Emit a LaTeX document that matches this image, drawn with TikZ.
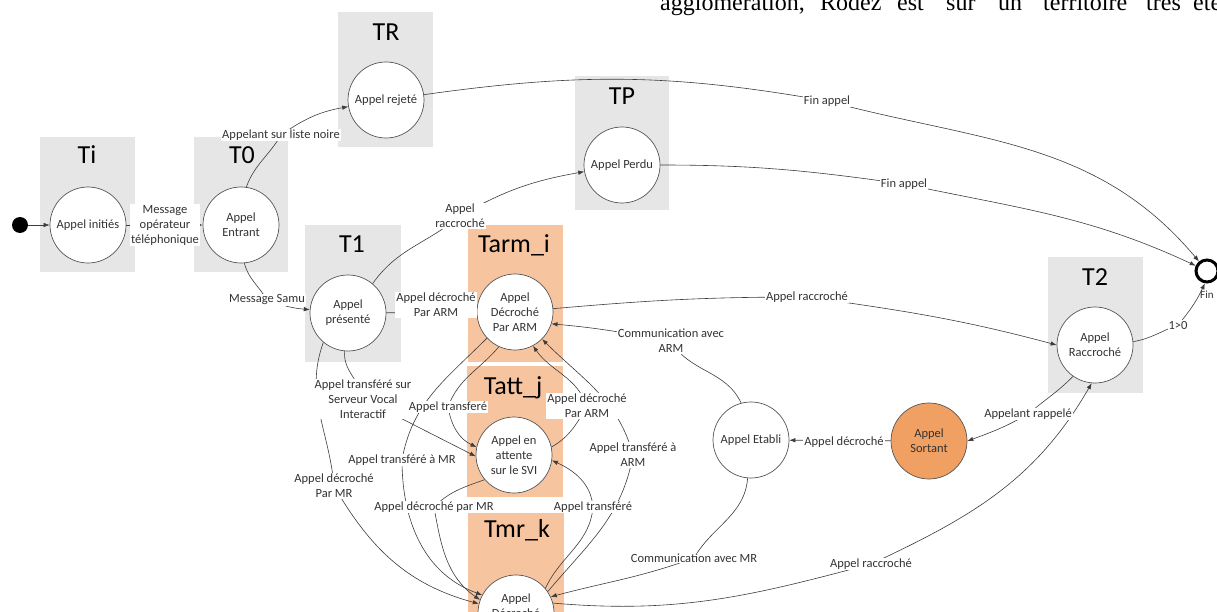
\documentclass[tikz,border=0pt]{standalone}
\usepackage{fontspec}
\setmainfont{Carlito}
\newfontfamily\hdrfont{Liberation Serif}
\usetikzlibrary{arrows.meta}
\definecolor{graybox}{HTML}{E6E6E6}
\definecolor{orbox}{HTML}{F7C4A0}
\definecolor{orfill}{HTML}{F0A062}
\definecolor{circ}{HTML}{555555}
\definecolor{edgec}{HTML}{3C3C3C}
\definecolor{txt}{HTML}{333333}
\pgfdeclarelayer{bg}\pgfdeclarelayer{fg}\pgfsetlayers{bg,main,fg}
\begin{document}
\begin{tikzpicture}[x=1pt,y=-1pt,
  gbox/.style={fill=graybox,draw=none},
  obox/.style={fill=orbox,draw=none},
  state/.style={circle,draw=circ,line width=0.7pt,fill=white,minimum size=76pt,inner sep=0pt,align=center,text=txt,font=\fontsize{12.5}{15}\selectfont},
  lab/.style={fill=white,inner sep=1pt,align=center,text=txt,font=\fontsize{12.5}{15}\selectfont},
  ttl/.style={anchor=base,inner sep=0pt,text=black,font=\fontsize{26}{30}\selectfont},
  hdr/.style={anchor=base west,inner sep=0pt,text=black,font=\hdrfont\fontsize{24}{28}\selectfont},
  arr/.style={draw=edgec,line width=0.6pt,-{Latex[length=6pt,width=4.5pt]}}]
\useasboundingbox (0,0) rectangle (1217,612);

% header text fragment
\node[hdr] (h1) at (660,11) {agglomération,};
\node[hdr] (h2) at (820,11) {Rodez};
\node[hdr] (h3) at (897,11) {est};
\node[hdr] (h4) at (946,11) {sur};
\node[hdr] (h5) at (998,11) {un};
\node[hdr] (h6) at (1043,11) {territoire};
\node[hdr] (h7) at (1146,11) {très};
\node[hdr] (h8) at (1193,11) {éte};

% background boxes
\begin{pgfonlayer}{bg}
\fill[gbox] (40,137) rectangle (135,272);
\fill[gbox] (194,137) rectangle (288,272);
\fill[gbox] (338,12) rectangle (433,147);
\fill[gbox] (575,76) rectangle (669,210);
\fill[gbox] (305,225) rectangle (401,362);
\fill[gbox] (1048,257) rectangle (1143,393);
\fill[obox] (468,225) rectangle (563,362);
\fill[obox] (467,366) rectangle (563,497);
\fill[obox] (468,513) rectangle (564,620);
\node[ttl] (tTi) at (87,164) {Ti};
\node[ttl] (tT0) at (242,164) {T0};
\node[ttl] (tTR) at (386,41) {TR};
\node[ttl] (tTP) at (622,105) {TP};
\node[ttl] (tT1) at (352,252) {T1};
\node[ttl] (tTarm) at (514,252) {Tarm\_i};
\node[ttl] (tTatt) at (513,394) {Tatt\_j};
\node[ttl] (tTmr) at (517,537) {Tmr\_k};
\node[ttl] (tT2) at (1095,285) {T2};
\end{pgfonlayer}

% states
\node[circle,fill=black,minimum size=16pt,inner sep=0pt] (start) at (20,225) {};
\node[state] (ini) at (88,225) {Appel initiés};
\node[state] (ent) at (241,225) {Appel\\Entrant};
\node[state] (rej) at (386,100) {Appel rejeté};
\node[state] (per) at (622,165) {Appel Perdu};
\node[state] (pre) at (348,313) {Appel\\présenté};
\node[state] (arm) at (515,312) {Appel\\Décroché\\Par ARM};
\node[state] (att) at (514,455) {Appel en\\attente\\sur le SVI};
\node[state] (mr) at (516,613) {Appel\\Décroché\\MR};
\node[state] (rac) at (1095,345) {Appel\\Raccroché};
\node[state] (eta) at (751,440) {Appel Etabli};
\node[state,fill=orfill,draw=circ] (sor) at (929,441) {Appel\\Sortant};
\node[circle,draw=black,line width=3pt,minimum size=22pt,inner sep=0pt] (fin) at (1207,271) {};
\node[anchor=west,inner sep=0pt,text=txt,font=\fontsize{11}{13}\selectfont] (finlab) at (1200,295) {Fin};

% connector labels
\begin{pgfonlayer}{fg}
\node[lab] (lmsg) at (165,225) {Message\\opérateur\\téléphonique};
\node[lab] (lnoire) at (281,135) {Appelant sur liste noire};
\node[lab] (lfin1) at (827,101) {Fin appel};
\node[lab] (lfin2) at (904,184) {Fin appel};
\node[lab] (lsamu) at (267,300) {Message Samu};
\node[lab] (lracc1) at (460,216) {Appel\\raccroché};
\node[lab] (ldecarm1) at (436,305) {Appel décroché\\Par ARM};
\node[lab] (lracc2) at (807,297) {Appel raccroché};
\node[lab] (lcomarm) at (671,341) {Communication avec\\ARM};
\node[lab] (ldec) at (844,442) {Appel décroché};
\node[lab] (lrapp) at (1028,414) {Appelant rappelé};
\node[lab] (l10) at (1178,325) {1>0};
\node[lab] (lracc3) at (871,564) {Appel raccroché};
\node[lab] (lcommr) at (694,558) {Communication avec MR};
\node[lab] (lsvi) at (363,399) {Appel transféré sur\\Serveur Vocal\\Interactif};
\node[lab] (ltrans1) at (448,407) {Appel transferé};
\node[lab] (ldecarm2) at (587,406) {Appel décroché\\Par ARM};
\node[lab] (ltransarm) at (633,455) {Appel transféré à\\ARM};
\node[lab] (ltransmr) at (402,460) {Appel transféré à MR};
\node[lab] (ldecmr1) at (334,486) {Appel décroché\\Par MR};
\node[lab] (ldecmr2) at (434,507) {Appel décroché par MR};
\node[lab] (ltrans2) at (593,507) {Appel transféré};
\end{pgfonlayer}

% connectors
\draw[arr] (start) -- (ini);
\draw[arr] (ini) -- (ent);
\draw[arr] (ent.82) to[out=70,in=-120] (lnoire.center) to[out=35,in=190] (rej);
\draw[arr] (rej) to[out=8,in=170] (lfin1.center) to[out=-15,in=130] (fin);
\draw[arr] (per) to[out=0,in=172] (lfin2.center) to[out=-12,in=155] (fin);
\draw[arr] (ent.-85) to[out=-75,in=120] (lsamu.center) to[out=-20,in=175] (pre);
\draw[arr] (pre.50) to[out=55,in=-140] (lracc1.center) to[out=30,in=190] (per);
\draw[arr] (pre) -- (arm);
\draw[arr] (arm.5) to[out=5,in=180] (lracc2.center) to[out=-8,in=165] (rac.180);
\draw[arr] (eta.105) to[out=115,in=-60] (lcomarm.center) to[out=170,in=-5] (arm.-18);
\draw[arr] (sor) -- (eta);
\draw[arr] (rac.-125) to[out=-135,in=40] (lrapp.center) to[out=-150,in=20] (sor.0);
\draw[arr] (rac.5) to[out=10,in=200] (l10.center) to[out=50,in=-115] (fin.-100);
\draw[arr] (mr.15) to[out=-5,in=195] (lracc3.center) to[out=25,in=-120] (rac.-95);
\draw[arr] (eta.-95) to[out=-95,in=60] (lcommr.center) to[out=-160,in=15] (mr.25);
\draw[arr] (pre.-95) to[out=-95,in=100] (lsvi.center) -- (att.182);
\draw[arr] (arm.-115) to[out=-130,in=70] (ltrans1.center) to[out=-80,in=155] (att.168);
\draw[arr] (arm.-137) to[out=-135,in=80] (ltransmr.center) to[out=-90,in=160] (mr.152);
\draw[arr] (att.-140) to[out=-160,in=45] (ldecmr2.center) to[out=-80,in=145] (mr.160);
\draw[arr] (pre.-130) to[out=-110,in=95] (ldecmr1.center) to[out=-60,in=165] (mr.166);
\draw[arr] (mr.40) to[out=65,in=-95] (ltrans2.center) to[out=95,in=-25] (att.-8);
\draw[arr] (mr.34) to[out=50,in=-100] (ltransarm.center) to[out=105,in=-45] (arm.-45);
\draw[arr] (att.12) to[out=30,in=-120] (ldecarm2.center) to[out=110,in=-55] (arm.-62);
\end{tikzpicture}
\end{document}
